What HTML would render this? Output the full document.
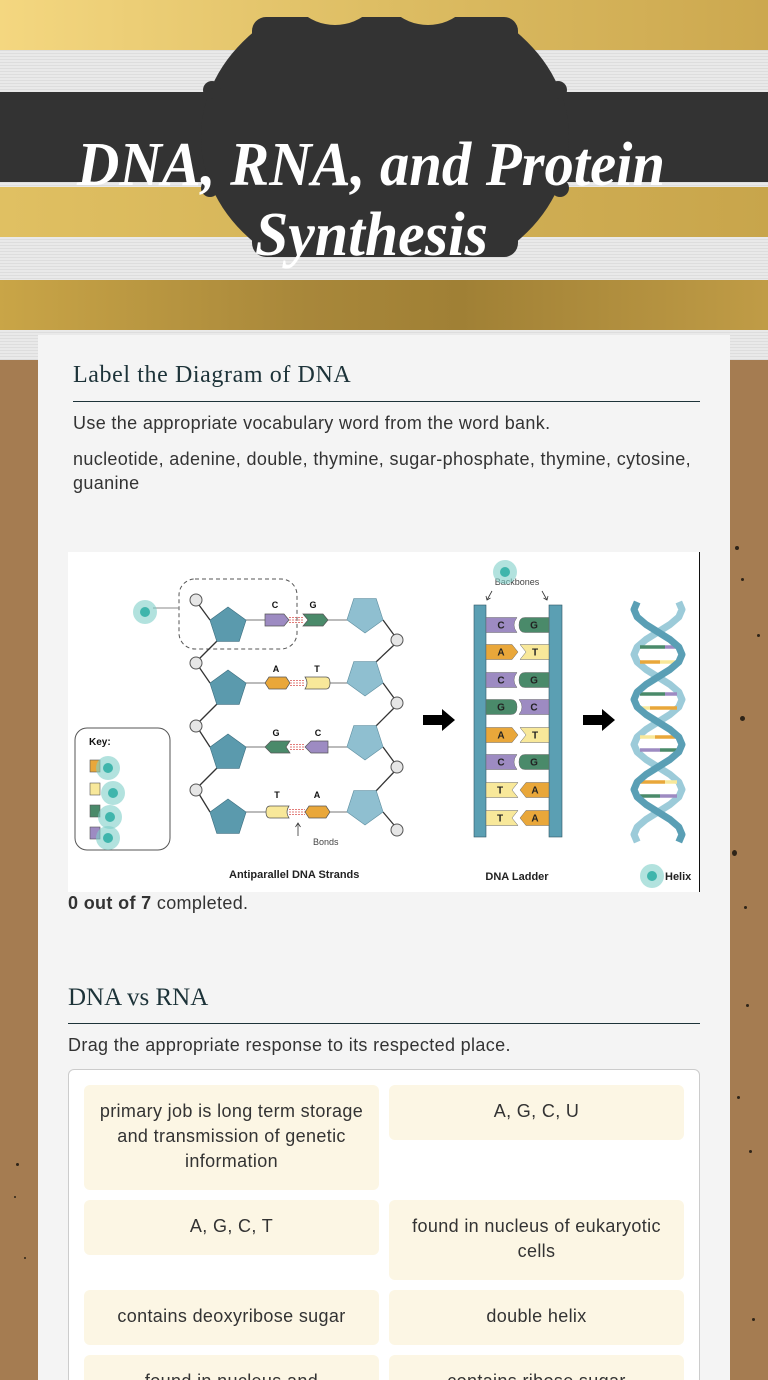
<!DOCTYPE html>
<html><head><meta charset="utf-8">
<style>
html,body{margin:0;padding:0;width:768px;height:1380px;overflow:hidden;}
#wrap{width:768px;height:1380px;overflow:hidden;position:relative;background:#a57c51;font-family:"Liberation Sans",Arial,sans-serif;}
.abs{position:absolute;}
.t{position:absolute;font-family:"Liberation Sans",Arial,sans-serif;color:#333;font-size:18px;letter-spacing:0.35px;white-space:nowrap;line-height:25px;}
.h{position:absolute;font-family:"Liberation Serif",serif;color:#1d3339;white-space:nowrap;line-height:30px;}
.card{position:absolute;background:#fcf6e4;border-radius:6px;text-align:center;font-family:"Liberation Sans",Arial,sans-serif;font-size:18px;letter-spacing:0.35px;color:#333;line-height:25px;box-sizing:border-box;padding-top:14px;white-space:nowrap;width:295px;}
.dot{position:absolute;border-radius:50%;background:#2e2418;}
</style></head><body>
<div id="wrap">

<svg class="abs" style="left:0;top:0" width="768" height="360" viewBox="0 0 768 360">
<defs>
<linearGradient id="g1" x1="0" x2="768" y1="0" y2="0" gradientUnits="userSpaceOnUse"><stop offset="0" stop-color="#f4d780"/><stop offset="0.5" stop-color="#ddbd63"/><stop offset="1" stop-color="#cca84f"/></linearGradient>
<linearGradient id="g2" x1="0" x2="768" y1="0" y2="0" gradientUnits="userSpaceOnUse"><stop offset="0" stop-color="#e0c062"/><stop offset="0.5" stop-color="#d3b257"/><stop offset="1" stop-color="#c8a54b"/></linearGradient>
<linearGradient id="g3" x1="0" x2="768" y1="0" y2="0" gradientUnits="userSpaceOnUse"><stop offset="0" stop-color="#c9a547"/><stop offset="0.4" stop-color="#a8873a"/><stop offset="0.6" stop-color="#a08035"/><stop offset="1" stop-color="#c09c46"/></linearGradient>
<pattern id="tex" width="4" height="3" patternUnits="userSpaceOnUse"><rect width="4" height="3" fill="#e9e9e9"/><rect y="2" width="4" height="1" fill="#dddddd"/></pattern>
<clipPath id="cb"><rect x="0" y="17" width="768" height="240"/></clipPath>
</defs>
<rect x="0" y="0" width="768" height="360" fill="url(#tex)"/>
<rect x="0" y="0" width="768" height="50" fill="url(#g1)"/>
<rect x="0" y="92" width="768" height="90" fill="#333"/>
<rect x="0" y="187" width="768" height="50" fill="url(#g2)"/>
<rect x="0" y="280" width="768" height="50" fill="url(#g3)"/>
<g fill="#333">
<ellipse cx="385" cy="137" rx="184" ry="150" clip-path="url(#cb)"/>
<rect x="252" y="17" width="266" height="240" rx="14"/>
<circle cx="212" cy="90" r="9"/>
<circle cx="558" cy="90" r="9"/>
<circle cx="210" cy="188" r="9"/>
<circle cx="560" cy="188" r="9"/>
</g>
<circle cx="335" cy="-25" r="50" fill="url(#g1)"/>
<circle cx="428" cy="-25" r="50" fill="url(#g1)"/>
<text x="77" y="185" font-family="Liberation Serif, serif" font-weight="bold" font-style="italic" font-size="62" fill="#fff" textLength="588" lengthAdjust="spacingAndGlyphs">DNA, RNA, and Protein</text>
<text x="255" y="255" font-family="Liberation Serif, serif" font-weight="bold" font-style="italic" font-size="62" fill="#fff" textLength="233" lengthAdjust="spacingAndGlyphs">Synthesis</text>
</svg>

<div class="dot" style="left:740px;top:716px;width:5px;height:5px"></div>
<div class="dot" style="left:732px;top:850px;width:5px;height:6px"></div>
<div class="dot" style="left:735px;top:546px;width:4px;height:4px"></div>
<div class="dot" style="left:741px;top:578px;width:3px;height:3px"></div>
<div class="dot" style="left:757px;top:634px;width:3px;height:3px"></div>
<div class="dot" style="left:746px;top:1004px;width:3px;height:3px"></div>
<div class="dot" style="left:744px;top:906px;width:3px;height:3px"></div>
<div class="dot" style="left:737px;top:1096px;width:3px;height:3px"></div>
<div class="dot" style="left:749px;top:1150px;width:3px;height:3px"></div>
<div class="dot" style="left:16px;top:1163px;width:3px;height:3px"></div>
<div class="dot" style="left:14px;top:1196px;width:2px;height:2px"></div>
<div class="dot" style="left:752px;top:1318px;width:3px;height:3px"></div>
<div class="dot" style="left:24px;top:1257px;width:2px;height:2px"></div>

<div class="abs" style="left:38px;top:335px;width:692px;height:1045px;background:#f4f4f4"></div>

<div class="h" style="left:73px;top:360px;font-size:24px;letter-spacing:0.6px">Label the Diagram of DNA</div>
<div class="abs" style="left:73px;top:401px;width:627px;height:1px;background:#1d3339"></div>
<div class="t" style="left:73px;top:411px">Use the appropriate vocabulary word from the word bank.</div>
<div class="t" style="left:73px;top:447px;line-height:24px">nucleotide, adenine, double, thymine, sugar-phosphate, thymine, cytosine,<br>guanine</div>

<svg class="abs" style="left:68px;top:552px" width="632" height="340" viewBox="68 552 632 340">
<rect x="68" y="552" width="632" height="340" fill="#fff"/>
<line x1="699.5" y1="552" x2="699.5" y2="892" stroke="#111" stroke-width="1"/>
<g font-family="Liberation Sans, Arial, sans-serif">
<rect x="179" y="579" width="118" height="70" rx="16" fill="none" stroke="#555" stroke-dasharray="4,3"/>
<line x1="153" y1="608" x2="179" y2="608" stroke="#888"/>
<g stroke="#333" stroke-width="1.3">
<line x1="199" y1="605" x2="210" y2="620"/>
<line x1="217" y1="641" x2="199" y2="659"/>
<line x1="199" y1="667" x2="210" y2="683"/>
<line x1="217" y1="704" x2="199" y2="722"/>
<line x1="199" y1="730" x2="210" y2="747"/>
<line x1="217" y1="768" x2="199" y2="786"/>
<line x1="199" y1="794" x2="210" y2="812"/>
<line x1="383" y1="620" x2="394" y2="635"/>
<line x1="394" y1="645" x2="376" y2="662"/>
<line x1="383" y1="683" x2="394" y2="698"/>
<line x1="394" y1="708" x2="376" y2="726"/>
<line x1="383" y1="747" x2="394" y2="762"/>
<line x1="394" y1="772" x2="376" y2="791"/>
<line x1="383" y1="812" x2="394" y2="825"/>
</g>
<g stroke="#777" stroke-width="1">
<line x1="246" y1="620" x2="265" y2="620"/><line x1="328" y1="620" x2="347" y2="620"/>
<line x1="246" y1="683" x2="265" y2="683"/><line x1="330" y1="683" x2="347" y2="683"/>
<line x1="246" y1="747" x2="265" y2="747"/><line x1="328" y1="747" x2="347" y2="747"/>
<line x1="246" y1="812" x2="266" y2="812"/><line x1="330" y1="812" x2="347" y2="812"/>
</g>
<g fill="#e6e6e6" stroke="#555" stroke-width="1">
<circle cx="196" cy="600" r="6"/><circle cx="196" cy="663" r="6"/><circle cx="196" cy="726" r="6"/><circle cx="196" cy="790" r="6"/>
<circle cx="397" cy="640" r="6"/><circle cx="397" cy="703" r="6"/><circle cx="397" cy="767" r="6"/><circle cx="397" cy="830" r="6"/>
</g>
<g fill="#5b9aad" stroke="#3d6f80" stroke-width="0.6">
<polygon points="228,607 246.1,620.1 239.2,641.4 216.8,641.4 209.9,620.1"/>
<polygon points="228,670 246.1,683.1 239.2,704.4 216.8,704.4 209.9,683.1"/>
<polygon points="228,734 246.1,747.1 239.2,768.4 216.8,768.4 209.9,747.1"/>
<polygon points="228,799 246.1,812.1 239.2,833.4 216.8,833.4 209.9,812.1"/>
</g>
<g fill="#8fbfd0" stroke="#5f8fa0" stroke-width="0.6">
<polygon points="365,633 383.1,619.9 376.2,598.6 353.8,598.6 346.9,619.9"/>
<polygon points="365,696 383.1,682.9 376.2,661.6 353.8,661.6 346.9,682.9"/>
<polygon points="365,760 383.1,746.9 376.2,725.6 353.8,725.6 346.9,746.9"/>
<polygon points="365,825 383.1,811.9 376.2,790.6 353.8,790.6 346.9,811.9"/>
</g>
<g stroke="#555" stroke-width="0.7">
<path d="M265,614 H284 L289,620 L284,626 H265 Z" fill="#9d8bc2"/>
<path d="M303,614 H323 L328,620 L323,626 H303 L308,620 Z" fill="#4a8a6a"/>
<path d="M269,677 H286 L290,683 L286,689 H269 L265,683 Z" fill="#e9a73a"/>
<path d="M305,677 H326 Q330,677 330,683 Q330,689 326,689 H305 Q309,683 305,677 Z" fill="#f8e89a"/>
<path d="M265,747 L271,741 H290 L286,747 L290,753 H271 Z" fill="#4a8a6a"/>
<path d="M305,747 L311,741 H328 V753 H311 Z" fill="#9d8bc2"/>
<path d="M270,806 H289 Q285,812 289,818 H270 Q266,818 266,812 Q266,806 270,806 Z" fill="#f8e89a"/>
<path d="M309,806 H326 L330,812 L326,818 H309 L305,812 Z" fill="#e9a73a"/>
</g>
<g stroke="#d9534f" stroke-width="0.8" stroke-dasharray="2,1">
<line x1="289" y1="617.5" x2="303" y2="617.5"/><line x1="289" y1="620" x2="303" y2="620"/><line x1="289" y1="622.5" x2="303" y2="622.5"/>
<line x1="290" y1="680.5" x2="305" y2="680.5"/><line x1="290" y1="683" x2="305" y2="683"/><line x1="290" y1="685.5" x2="305" y2="685.5"/>
<line x1="290" y1="744.5" x2="305" y2="744.5"/><line x1="290" y1="747" x2="305" y2="747"/><line x1="290" y1="749.5" x2="305" y2="749.5"/>
<line x1="289" y1="809.5" x2="305" y2="809.5"/><line x1="289" y1="812" x2="305" y2="812"/><line x1="289" y1="814.5" x2="305" y2="814.5"/>
</g>
<g font-size="9" font-weight="bold" fill="#111" text-anchor="middle">
<text x="275" y="608">C</text><text x="313" y="608">G</text>
<text x="276" y="672">A</text><text x="317" y="672">T</text>
<text x="276" y="736">G</text><text x="318" y="736">C</text>
<text x="277" y="798">T</text><text x="317" y="798">A</text>
</g>
<line x1="298" y1="836" x2="298" y2="824" stroke="#333" stroke-width="0.8"/>
<path d="M295.5,827 L298,823 L300.5,827" fill="none" stroke="#333" stroke-width="0.8"/>
<text x="313" y="845" font-size="9" fill="#444">Bonds</text>
<rect x="75" y="728" width="95" height="122" rx="12" fill="#fff" stroke="#555"/>
<text x="89" y="745" font-size="10" font-weight="bold" fill="#111">Key:</text>
<rect x="90" y="760" width="10" height="12" fill="#e9a73a" stroke="#555" stroke-width="0.6"/>
<rect x="90" y="783" width="10" height="12" fill="#f8e89a" stroke="#555" stroke-width="0.6"/>
<rect x="90" y="805" width="10" height="12" fill="#4a8a6a" stroke="#555" stroke-width="0.6"/>
<rect x="90" y="827" width="10" height="12" fill="#9d8bc2" stroke="#555" stroke-width="0.6"/>
<text x="229" y="878" font-size="11" font-weight="bold" fill="#222">Antiparallel DNA Strands</text>
<path d="M423,715 H442 V709 L455,720 L442,731 V725 H423 Z" fill="#000"/>
<path d="M583,715 H602 V709 L615,720 L602,731 V725 H583 Z" fill="#000"/>
<rect x="474" y="605" width="12" height="232" fill="#5b9fb3" stroke="#2f5663" stroke-width="0.6"/>
<rect x="549" y="605" width="13" height="232" fill="#5b9fb3" stroke="#2f5663" stroke-width="0.6"/>
<g stroke="#666" stroke-width="0.5">
<path d="M486,617.5 H517 Q511,625 517,632.5 H486 Z" fill="#9d8bc2"/>
<path d="M549,617.5 H525 Q519,617.5 519,625 Q519,632.5 525,632.5 H549 Z" fill="#4a8a6a"/>
<path d="M486,644.5 H512 L518,652 L512,659.5 H486 Z" fill="#e9a73a"/>
<path d="M520,644.5 H549 V659.5 H520 L526,652 Z" fill="#f8e89a"/>
<path d="M486,672.5 H517 Q511,680 517,687.5 H486 Z" fill="#9d8bc2"/>
<path d="M549,672.5 H525 Q519,672.5 519,680 Q519,687.5 525,687.5 H549 Z" fill="#4a8a6a"/>
<path d="M486,699.5 H511 Q517,699.5 517,707 Q517,714.5 511,714.5 H486 Z" fill="#4a8a6a"/>
<path d="M549,699.5 H519 Q525,707 519,714.5 H549 Z" fill="#9d8bc2"/>
<path d="M486,727.5 H512 L518,735 L512,742.5 H486 Z" fill="#e9a73a"/>
<path d="M520,727.5 H549 V742.5 H520 L526,735 Z" fill="#f8e89a"/>
<path d="M486,754.5 H517 Q511,762 517,769.5 H486 Z" fill="#9d8bc2"/>
<path d="M549,754.5 H525 Q519,754.5 519,762 Q519,769.5 525,769.5 H549 Z" fill="#4a8a6a"/>
<path d="M486,782.5 H518 L512,790 L518,797.5 H486 Z" fill="#f8e89a"/>
<path d="M549,782.5 H526 L520,790 L526,797.5 H549 Z" fill="#e9a73a"/>
<path d="M486,810.5 H518 L512,818 L518,825.5 H486 Z" fill="#f8e89a"/>
<path d="M549,810.5 H526 L520,818 L526,825.5 H549 Z" fill="#e9a73a"/>
</g>
<g font-size="10" font-weight="bold" fill="#222" text-anchor="middle">
<text x="501" y="628.5">C</text><text x="534" y="628.5">G</text>
<text x="501" y="655.5">A</text><text x="535" y="655.5">T</text>
<text x="501" y="683.5">C</text><text x="534" y="683.5">G</text>
<text x="501" y="710.5">G</text><text x="534" y="710.5">C</text>
<text x="501" y="738.5">A</text><text x="535" y="738.5">T</text>
<text x="501" y="765.5">C</text><text x="534" y="765.5">G</text>
<text x="500" y="793.5">T</text><text x="535" y="793.5">A</text>
<text x="500" y="821.5">T</text><text x="535" y="821.5">A</text>
</g>
<text x="517" y="585" font-size="9" fill="#444" text-anchor="middle">Backbones</text>
<g stroke="#333" stroke-width="0.8" fill="none">
<line x1="492" y1="591" x2="487" y2="600"/><path d="M486,596 L487,600 L490.5,598"/>
<line x1="542" y1="591" x2="547" y2="600"/><path d="M548,596 L547,600 L543.5,598"/>
</g>
<text x="517" y="880" font-size="11" font-weight="bold" fill="#222" text-anchor="middle">DNA Ladder</text>
<polyline fill="none" stroke="#9ccbd9" stroke-width="7" stroke-linejoin="round" points="678.8,602 682,609.5 678.8,617 670,624.5 658,632 646,639.5 637.2,647 634,654.5 637.2,662 646,669.5 658,677 670,684.5 678.8,692 682,699.5 678.8,707 670,714.5 658,722 646,729.5 637.2,737 634,744.5 637.2,752 646,759.5 658,767 670,774.5 678.8,782 682,789.5 678.8,797 670,804.5 658,812 646,819.5 637.2,827 634,834.5 637.2,842"/>
<g stroke-width="3.5">
<line x1="640" y1="647" x2="665" y2="647" stroke="#4a8a6a"/><line x1="665" y1="647" x2="677" y2="647" stroke="#9d8bc2"/>
<line x1="640" y1="662" x2="660" y2="662" stroke="#e9a73a"/><line x1="660" y1="662" x2="677" y2="662" stroke="#f8e89a"/>
<line x1="640" y1="694" x2="665" y2="694" stroke="#4a8a6a"/><line x1="665" y1="694" x2="677" y2="694" stroke="#9d8bc2"/>
<line x1="640" y1="708" x2="650" y2="708" stroke="#f8e89a"/><line x1="650" y1="708" x2="677" y2="708" stroke="#e9a73a"/>
<line x1="640" y1="737" x2="655" y2="737" stroke="#f8e89a"/><line x1="655" y1="737" x2="677" y2="737" stroke="#e9a73a"/>
<line x1="640" y1="750" x2="660" y2="750" stroke="#9d8bc2"/><line x1="660" y1="750" x2="677" y2="750" stroke="#4a8a6a"/>
<line x1="640" y1="782" x2="665" y2="782" stroke="#e9a73a"/><line x1="665" y1="782" x2="677" y2="782" stroke="#f8e89a"/>
<line x1="640" y1="796" x2="660" y2="796" stroke="#4a8a6a"/><line x1="660" y1="796" x2="677" y2="796" stroke="#9d8bc2"/>
</g>
<polyline fill="none" stroke="#5a9fb5" stroke-width="7" stroke-linejoin="round" points="637.2,602 634,609.5 637.2,617 646,624.5 658,632 670,639.5 678.8,647 682,654.5 678.8,662 670,669.5 658,677 646,684.5 637.2,692 634,699.5 637.2,707 646,714.5 658,722 670,729.5 678.8,737 682,744.5 678.8,752 670,759.5 658,767 646,774.5 637.2,782 634,789.5 637.2,797 646,804.5 658,812 670,819.5 678.8,827 682,834.5 678.8,842"/>
<text x="665" y="880" font-size="11" font-weight="bold" fill="#222">Helix</text>
<g>
<circle cx="145" cy="612" r="12" fill="#7fcfc8" fill-opacity="0.6"/><circle cx="145" cy="612" r="5" fill="#3fb5ac"/>
<circle cx="108" cy="768" r="12" fill="#7fcfc8" fill-opacity="0.6"/><circle cx="108" cy="768" r="5" fill="#3fb5ac"/>
<circle cx="113" cy="793" r="12" fill="#7fcfc8" fill-opacity="0.6"/><circle cx="113" cy="793" r="5" fill="#3fb5ac"/>
<circle cx="110" cy="817" r="12" fill="#7fcfc8" fill-opacity="0.6"/><circle cx="110" cy="817" r="5" fill="#3fb5ac"/>
<circle cx="108" cy="838" r="12" fill="#7fcfc8" fill-opacity="0.6"/><circle cx="108" cy="838" r="5" fill="#3fb5ac"/>
<circle cx="505" cy="572" r="12" fill="#7fcfc8" fill-opacity="0.6"/><circle cx="505" cy="572" r="5" fill="#3fb5ac"/>
<circle cx="652" cy="876" r="12" fill="#7fcfc8" fill-opacity="0.6"/><circle cx="652" cy="876" r="5" fill="#3fb5ac"/>
</g>
</g>
</svg>

<div class="t" style="left:68px;top:891px"><b>0 out of 7</b> completed.</div>

<div class="h" style="left:68px;top:983px;font-size:25px">DNA vs RNA</div>
<div class="abs" style="left:68px;top:1023px;width:632px;height:1px;background:#1d3339"></div>
<div class="t" style="left:68px;top:1033px">Drag the appropriate response to its respected place.</div>

<div class="abs" style="left:68px;top:1069px;width:630px;height:340px;background:#fff;border:1px solid #cccccc;border-radius:6px"></div>

<div class="card" style="left:84px;top:1085px;height:105px">primary job is long term storage<br>and transmission of genetic<br>information</div>
<div class="card" style="left:389px;top:1085px;height:55px">A, G, C, U</div>
<div class="card" style="left:84px;top:1200px;height:55px">A, G, C, T</div>
<div class="card" style="left:389px;top:1200px;height:80px">found in nucleus of eukaryotic<br>cells</div>
<div class="card" style="left:84px;top:1290px;height:55px">contains deoxyribose sugar</div>
<div class="card" style="left:389px;top:1290px;height:55px">double helix</div>
<div class="card" style="left:84px;top:1355px;height:80px">found in nucleus and<br>cytoplasm</div>
<div class="card" style="left:389px;top:1355px;height:55px">contains ribose sugar</div>

</div>
</body></html>
